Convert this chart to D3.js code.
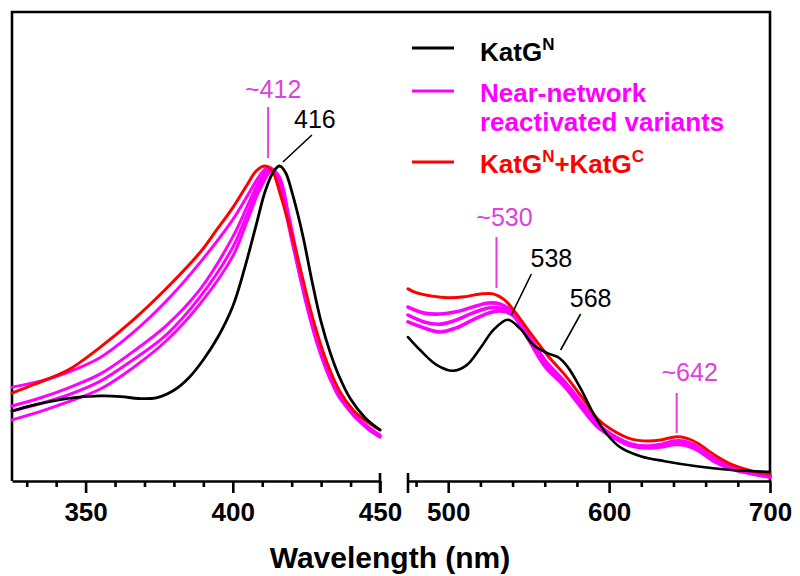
<!DOCTYPE html>
<html><head><meta charset="utf-8">
<script src="https://cdn.jsdelivr.net/npm/d3@7"></script>
<style>
html,body{margin:0;padding:0;background:#fff;}
svg{display:block;font-family:"Liberation Sans",Arial,Helvetica,sans-serif;}
</style></head>
<body><svg id="c" width="800" height="576"></svg>
<script>
// ---- Data (relative absorbance, a.u.) ----
// Soret region (left panel)
const katgN_soret = [[325,0.222],[332,0.240],[344,0.262],[355,0.270],[362,0.268],[368,0.262],[374,0.264],[380,0.288],[385,0.327],[390,0.385],[395,0.458],[400,0.555],[404,0.675],[408,0.815],[411,0.920],[414,0.985],[416,1.000],[418,0.978],[420,0.920],[422,0.850],[424,0.770],[427,0.630],[430,0.505],[433,0.410],[436,0.335],[440,0.260],[445,0.200],[450,0.162]];
const katgNC_soret = [[325,0.279],[332,0.305],[344,0.352],[355,0.425],[366,0.510],[377.5,0.612],[389,0.727],[394.5,0.797],[400,0.868],[404.7,0.938],[408,0.985],[411,1.000],[413.4,0.985],[416,0.914],[419.6,0.797],[423,0.670],[427.5,0.505],[432,0.375],[436.4,0.283],[441,0.224],[445.6,0.188],[450,0.162]];
const nearNet_soret = [
  [[325,0.298],[335,0.318],[344,0.345],[355,0.392],[366,0.470],[377.5,0.572],[389,0.695],[400,0.830],[405,0.906],[409,0.968],[412,0.997],[414,0.983],[417,0.892],[420,0.765],[424,0.606],[428,0.463],[432,0.350],[436,0.268],[441,0.212],[446,0.172],[450,0.146]],
  [[325,0.238],[335,0.265],[344,0.295],[355,0.340],[366,0.410],[377.5,0.494],[389,0.610],[400,0.775],[405,0.874],[409,0.952],[412.5,0.994],[415,0.972],[418,0.860],[421,0.727],[425,0.560],[429,0.425],[433,0.325],[437,0.258],[441,0.208],[446,0.168],[450,0.143]],
  [[325,0.222],[335,0.247],[344,0.273],[355,0.317],[366,0.384],[377.5,0.465],[389,0.586],[400,0.742],[405,0.850],[409,0.938],[413,0.990],[415.5,0.968],[418.5,0.854],[421.5,0.720],[425.5,0.550],[429.5,0.418],[433.5,0.318],[437.5,0.253],[441.5,0.204],[446,0.165],[450,0.140]],
  [[325,0.194],[335,0.222],[344,0.251],[355,0.292],[366,0.359],[377.5,0.446],[389,0.564],[400,0.714],[405,0.828],[409,0.922],[413.5,0.987],[416,0.962],[419,0.844],[422,0.710],[426,0.545],[430,0.412],[434,0.312],[438,0.250],[442,0.201],[446,0.165],[450,0.140]]
];
// Visible region (right panel, magnified)
const katgN_vis = [[475,0.457],[482.5,0.416],[493,0.368],[503,0.350],[511.5,0.368],[520,0.422],[528,0.479],[537,0.512],[545,0.482],[553,0.432],[562,0.405],[568,0.394],[574,0.364],[582.5,0.292],[590.7,0.210],[599,0.146],[607.5,0.105],[620,0.078],[634.5,0.063],[655.6,0.046],[676,0.035],[700,0.029]];
const katgNC_vis = [[475,0.610],[480,0.598],[490,0.587],[500,0.582],[510,0.585],[520,0.594],[528,0.594],[535,0.575],[541,0.540],[551,0.470],[562,0.397],[572,0.340],[582.5,0.270],[593,0.197],[603,0.159],[614,0.133],[624,0.127],[632,0.130],[641,0.140],[648,0.136],[655,0.120],[666,0.081],[676,0.053],[688,0.033],[700,0.022]];
const nearNet_vis = [
  [[475,0.552],[485,0.533],[495,0.530],[505,0.537],[515,0.552],[525,0.565],[532,0.562],[540,0.537],[550,0.463],[560,0.384],[572,0.317],[582,0.254],[593,0.181],[603,0.143],[614,0.117],[625,0.111],[633,0.117],[641,0.127],[648,0.124],[655,0.108],[665,0.072],[676,0.046],[688,0.028],[700,0.016]],
  [[475,0.527],[485,0.505],[495,0.498],[505,0.511],[515,0.533],[525,0.549],[532,0.549],[540,0.530],[550,0.454],[560,0.371],[572,0.308],[582,0.244],[593,0.175],[603,0.140],[614,0.114],[625,0.108],[633,0.113],[641,0.121],[648,0.118],[655,0.102],[665,0.067],[676,0.041],[688,0.025],[700,0.013]],
  [[475,0.505],[485,0.486],[495,0.473],[505,0.486],[515,0.511],[525,0.533],[532,0.540],[540,0.527],[550,0.448],[560,0.365],[572,0.302],[582,0.238],[593,0.171],[603,0.137],[614,0.111],[625,0.105],[633,0.109],[641,0.116],[648,0.113],[655,0.098],[665,0.063],[676,0.038],[688,0.024],[700,0.013]]
];
const leftMajor = [350,400,450];
const leftMinor = [330,340,360,370,380,390,410,420,430,440];
const rightMajor = [500,600,700];
const rightMinor = [480,520,540,560,580,620,640,660,680];
const legendItems = [
  {key:"katgN", parts:[["KatG",""],["N","sup"]]},
  {key:"near", parts:[["Near-network",""]], second:"reactivated variants"},
  {key:"katgNC", parts:[["KatG",""],["N","sup"],["+KatG",""],["C","sup"]]}
];
const annotations = [
  {panel:"L", wl:412, text:"~412", kind:"pink"},
  {panel:"L", wl:416, text:"416", kind:"black"},
  {panel:"R", wl:530, text:"~530", kind:"pink"},
  {panel:"R", wl:538, text:"538", kind:"black"},
  {panel:"R", wl:568, text:"568", kind:"black"},
  {panel:"R", wl:642, text:"~642", kind:"pink"}
];
const xTitle = "Wavelength (nm)";

// ---- Styles ----
const C = {katgN:"#000000", near:"#ff00ff", katgNC:"#ff0000", annPink:"#e040e0"};
// annotation layout: [text dx, text baseline, line x1 dx, y1, line x2 dx, y2]
const annLayout = {
  412:[5,98,0,107,0,158], 416:[35,128,32,135,3,162],
  530:[8,226,0,237,0,288], 538:[42,267,22,274,2,315],
  568:[33,307,23,314,3,350], 642:[13,381,0,393,0,433]
};

const svg = d3.select("#c");
const yBase = 481, yTop = 12;
const xL = d3.scaleLinear().domain([325,450]).range([12,380]);
const xR = d3.scaleLinear().domain([475,700]).range([408,770]);
const y = d3.scaleLinear().domain([0,1.489]).range([yBase,yTop]);

// Frame (top, left, right)
svg.append("path")
  .attr("d",`M${xL(325)},${yBase} V${yTop} H${xR(700)} V${yBase}`)
  .attr("fill","none").attr("stroke","#000").attr("stroke-width",2.6);

function drawAxis(x, major, minor, ends){
  const gMin = svg.append("g").attr("transform",`translate(0,${yBase})`)
    .call(d3.axisBottom(x).tickValues(minor).tickSize(6).tickSizeOuter(0).tickFormat(""));
  const gMaj = svg.append("g").attr("transform",`translate(0,${yBase})`)
    .call(d3.axisBottom(x).tickValues(major).tickSize(12).tickSizeOuter(0).tickPadding(10).tickFormat(d3.format("d")));
  [gMin,gMaj].forEach(g=>{
    g.selectAll("path.domain").attr("stroke","#000").attr("stroke-width",2.6);
    g.selectAll(".tick line").attr("stroke","#000").attr("stroke-width",2.6);
  });
  gMin.select("path.domain").remove();
  gMaj.selectAll(".tick text").attr("font-size",26).attr("font-weight","bold")
    .attr("font-family",'"Liberation Sans",Arial,sans-serif').attr("fill","#000");
  ends.forEach(v=>{
    svg.append("line").attr("x1",x(v)).attr("x2",x(v)).attr("y1",yBase-8).attr("y2",yBase+12)
      .attr("stroke","#000").attr("stroke-width",2.6);
  });
}
drawAxis(xL,leftMajor,leftMinor,[450]);
drawAxis(xR,rightMajor,rightMinor,[475]);

svg.append("text").attr("x",390).attr("y",568).attr("text-anchor","middle")
  .attr("font-size",30).attr("font-weight","bold").attr("fill","#000").text(xTitle);

// Lines
const curve = d3.curveCatmullRom.alpha(0.5);
const lineL = d3.line().x(d=>xL(d[0])).y(d=>y(d[1])).curve(curve);
const lineR = d3.line().x(d=>xR(d[0])).y(d=>y(d[1])).curve(curve);
function drawSeries(gen, data, color, w){
  svg.append("path").datum(data).attr("d",gen).attr("fill","none")
    .attr("stroke",color).attr("stroke-width",w).attr("stroke-linejoin","round").attr("stroke-linecap","round");
}
nearNet_soret.forEach(s=>drawSeries(lineL,s,C.near,3));
nearNet_vis.forEach(s=>drawSeries(lineR,s,C.near,3.6));
drawSeries(lineL,katgNC_soret,C.katgNC,3);
drawSeries(lineR,katgNC_vis,C.katgNC,3);
drawSeries(lineL,katgN_soret,C.katgN,2.8);
drawSeries(lineR,katgN_vis,C.katgN,2.6);

// Annotations
annotations.forEach(a=>{
  const x = a.panel==="L" ? xL : xR;
  const L = annLayout[a.wl];
  const col = a.kind==="pink" ? C.annPink : "#000";
  const x0 = x(a.wl);
  svg.append("text").attr("x",x0+L[0]).attr("y",L[1]).attr("text-anchor","middle")
    .attr("font-size",25).attr("fill",col).text(a.text);
  svg.append("line").attr("x1",x0+L[2]).attr("y1",L[3]).attr("x2",x0+L[4]).attr("y2",L[5])
    .attr("stroke",col).attr("stroke-width",a.kind==="pink"?2:1.6);
});

// Legend
const legY = [48,91,162];
const txtY = [61,102,173];
legendItems.forEach((it,i)=>{
  svg.append("line").attr("x1",412).attr("x2",454).attr("y1",legY[i]).attr("y2",legY[i])
    .attr("stroke",C[it.key]).attr("stroke-width",3.2);
  const t = svg.append("text").attr("x",480).attr("y",txtY[i]).attr("font-size",26)
    .attr("font-weight","bold").attr("fill",C[it.key]);
  let prevSup = false;
  it.parts.forEach(([s,k])=>{
    if(k==="sup"){ t.append("tspan").attr("font-size",17).attr("dy",-11).text(s); prevSup = true; }
    else { const ts = t.append("tspan").text(s); if(prevSup) ts.attr("dy",11); prevSup = false; }
  });
  if(it.second){
    svg.append("text").attr("x",480).attr("y",txtY[i]+29).attr("font-size",26)
      .attr("font-weight","bold").attr("fill",C[it.key]).text(it.second);
  }
});
</script></body></html>
